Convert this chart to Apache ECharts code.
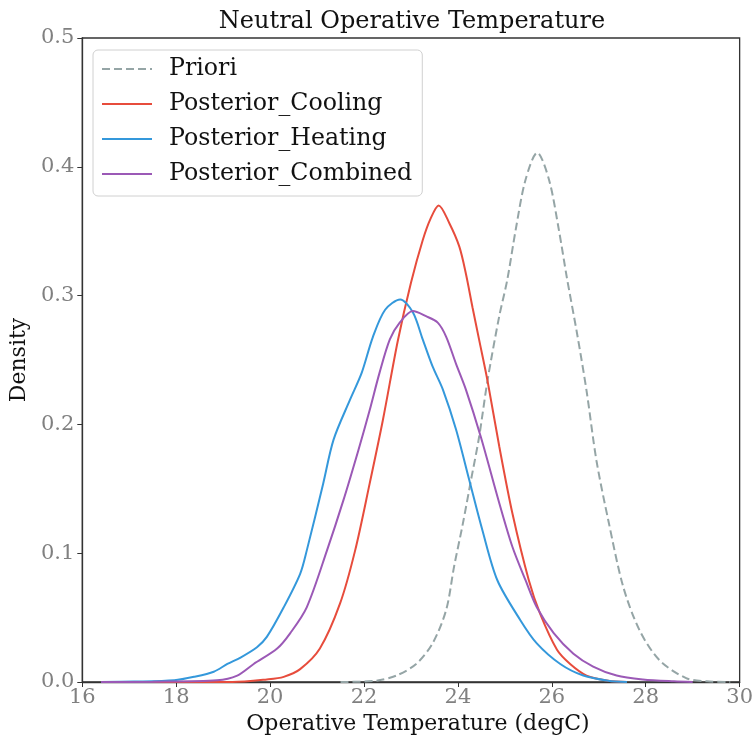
<!DOCTYPE html>
<html>
<head>
<meta charset="utf-8">
<script src="https://cdn.jsdelivr.net/npm/echarts@6/dist/echarts.min.js"></script>
<style>html,body{margin:0;padding:0;background:#fff}#c{width:756px;height:743px}</style>
</head>
<body>
<div id="c"></div>
<script>
const titleText = "Neutral Operative Temperature";
const xName = "Operative Temperature (degC)";
const yName = "Density";
const seriesNames = ["Priori", "Posterior_Cooling", "Posterior_Heating", "Posterior_Combined"];
const seriesColors = ["#95a5a6", "#e74c3c", "#3498db", "#9b59b6"];

const prioriX = [21.5, 22.26, 22.69, 23.11, 23.46, 23.75, 23.92, 24.10, 24.28, 24.45, 24.63, 24.88, 25.05, 25.23, 25.44, 25.69, 25.94, 26.15, 26.32, 26.54, 26.74, 26.95, 27.20, 27.52, 27.87, 28.29, 28.86, 29.3, 29.8];
const prioriY = [0, 0.001, 0.005, 0.014, 0.030, 0.056, 0.090, 0.122, 0.157, 0.190, 0.234, 0.284, 0.312, 0.351, 0.390, 0.411, 0.390, 0.351, 0.314, 0.270, 0.226, 0.172, 0.126, 0.074, 0.040, 0.017, 0.003, 0.0005, 0];

const coolingX = [16.4, 19.2, 19.93, 20.29, 20.64, 21.06, 21.49, 21.81, 22.12, 22.40, 22.72, 23.0, 23.25, 23.42, 23.59, 23.82, 24.03, 24.17, 24.31, 24.45, 24.63, 24.88, 25.16, 25.51, 25.75, 26.11, 26.39, 26.74, 27.2, 27.6];
const coolingY = [0, 0, 0.002, 0.004, 0.010, 0.026, 0.061, 0.102, 0.154, 0.203, 0.265, 0.310, 0.343, 0.360, 0.370, 0.356, 0.338, 0.317, 0.291, 0.266, 0.234, 0.183, 0.131, 0.079, 0.053, 0.025, 0.014, 0.005, 0.001, 0];

const heatingX = [16.4, 17.1, 17.96, 18.38, 18.80, 19.09, 19.37, 19.72, 19.93, 20.29, 20.64, 20.78, 21.13, 21.35, 21.70, 21.95, 22.19, 22.45, 22.77, 23.04, 23.25, 23.46, 23.68, 23.96, 24.24, 24.52, 24.84, 25.33, 25.68, 26.18, 26.67, 27.2, 27.6];
const heatingY = [0, 0.0003, 0.0013, 0.004, 0.008, 0.014, 0.019, 0.027, 0.035, 0.058, 0.084, 0.102, 0.154, 0.188, 0.219, 0.240, 0.268, 0.289, 0.297, 0.287, 0.266, 0.245, 0.227, 0.196, 0.157, 0.118, 0.079, 0.048, 0.030, 0.014, 0.005, 0.001, 0];

const combinedX = [16.4, 17.5, 18.87, 19.30, 19.65, 20.15, 20.43, 20.78, 21.21, 21.56, 21.88, 22.12, 22.33, 22.55, 22.76, 23.04, 23.32, 23.57, 23.75, 23.96, 24.17, 24.49, 24.88, 25.16, 25.44, 25.68, 26.04, 26.46, 26.88, 27.38, 27.94, 28.6, 29.0];
const combinedY = [0, 0.0002, 0.0013, 0.005, 0.014, 0.026, 0.038, 0.058, 0.102, 0.141, 0.180, 0.211, 0.240, 0.266, 0.279, 0.288, 0.284, 0.279, 0.268, 0.247, 0.227, 0.190, 0.139, 0.105, 0.079, 0.058, 0.038, 0.022, 0.012, 0.005, 0.002, 0.0005, 0];

const xTicks = [16, 18, 20, 22, 24, 26, 28, 30];
const yTicks = [0.0, 0.1, 0.2, 0.3, 0.4, 0.5];

const allX = [prioriX, coolingX, heatingX, combinedX];
const allY = [prioriY, coolingY, heatingY, combinedY];

const serif = "DejaVu Serif";
const chart = echarts.init(document.getElementById('c'));
chart.setOption({
  animation: false,
  backgroundColor: '#fff',
  title: {
    text: titleText, left: 407, top: 5, textAlign: 'center',
    textStyle: { fontFamily: serif, fontSize: 24, fontWeight: 'normal', color: '#111' }
  },
  legend: {
    orient: 'vertical', left: 93, top: 50,
    data: seriesNames,
    itemWidth: 50, itemHeight: 14, itemGap: 11,
    padding: [7, 10, 10, 8],
    itemStyle: { opacity: 0 },
    backgroundColor: '#fff', borderColor: '#d0d0d0', borderWidth: 1, borderRadius: 5,
    textStyle: { fontFamily: serif, fontSize: 23.7, color: '#111', padding: [0, 0, 0, 12] }
  },
  grid: { left: 81, right: 13, top: 38, bottom: 61, show: true, borderColor: '#333', borderWidth: 1.3 },
  xAxis: {
    type: 'value', min: xTicks[0], max: xTicks[xTicks.length - 1], interval: 2,
    name: xName, nameLocation: 'middle', nameGap: 27,
    nameTextStyle: { fontFamily: serif, fontSize: 22, color: '#111', padding: [0, 0, 0, 14] },
    axisLine: { show: true, lineStyle: { color: '#333', width: 1.3 } },
    axisTick: { show: true, length: 5, lineStyle: { color: '#333' } },
    axisLabel: { fontFamily: serif, fontSize: 21, color: '#808080', margin: 5 },
    splitLine: { show: false }
  },
  yAxis: {
    type: 'value', min: yTicks[0], max: yTicks[yTicks.length - 1], interval: 0.1,
    name: yName, nameLocation: 'middle', nameGap: 50, nameRotate: 90,
    nameTextStyle: { fontFamily: serif, fontSize: 22, color: '#111' },
    axisLine: { show: true, lineStyle: { color: '#333', width: 1.3 } },
    axisTick: { show: true, length: 5, lineStyle: { color: '#333' } },
    axisLabel: { fontFamily: serif, fontSize: 21, color: '#808080', margin: 8, formatter: v => v.toFixed(1) },
    splitLine: { show: false }
  },
  series: seriesNames.map((name, i) => ({
    name: name, type: 'line', showSymbol: false, symbol: 'none', smooth: 0.3,
    data: allX[i].map((x, j) => [x, allY[i][j]]),
    lineStyle: { color: seriesColors[i], width: 2, type: i === 0 ? [8, 4] : 'solid' },
    itemStyle: { color: seriesColors[i] },
    z: i === 0 ? 2 : 3
  }))
});
</script>
</body>
</html>
